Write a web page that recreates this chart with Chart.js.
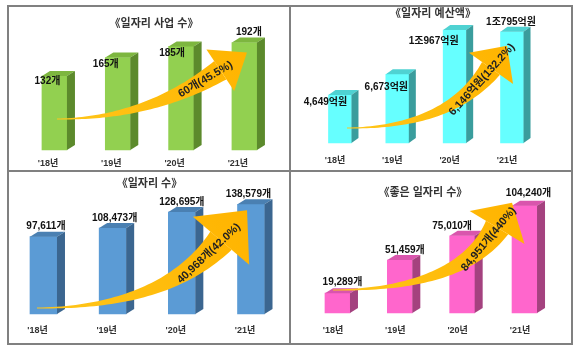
<!DOCTYPE html>
<html>
<head>
<meta charset="utf-8">
<script src="https://cdn.jsdelivr.net/npm/chart.js@4.4.1/dist/chart.umd.min.js"></script>
<style>
body{margin:0;background:#fff;width:580px;height:349px;position:relative;overflow:hidden}
.frame{position:absolute;left:7px;top:5px;width:562px;height:336px;border:2px solid #808080}
.vline{position:absolute;left:289px;top:5px;width:2px;height:338px;background:#808080}
.hline{position:absolute;left:7px;top:170px;width:565px;height:2px;background:#808080}
canvas{position:absolute}
</style>
</head>
<body>
<div class="frame"></div><div class="vline"></div><div class="hline"></div>
<canvas id="c1" width="282" height="165" style="left:8px;top:6px"></canvas>
<canvas id="c2" width="282" height="165" style="left:290px;top:6px"></canvas>
<canvas id="c3" width="282" height="172" style="left:8px;top:171px"></canvas>
<canvas id="c4" width="282" height="172" style="left:290px;top:171px"></canvas>
<script>
var years = ["'18년", "'19년", "'20년", "'21년"];
var projectCount = [132, 165, 185, 192];      // 개
var budget = [4649, 6673, 10967, 10795];      // 억원
var jobCount = [97611, 108473, 128695, 138579];
var goodJobCount = [19289, 51459, 75010, 104240];
var titles = ['《일자리 사업 수》', '《일자리 예산액》', '《일자리 수》', '《좋은 일자리 수》'];
var arrowTexts = ['60개(45.5%)', '6,146억원(132.2%)', '40,968개(42.0%)', '84,951개(440%)'];

var FONT = "'Liberation Sans', 'Noto Sans CJK KR', sans-serif";

function countFmt(v){ return v.toLocaleString('en-US') + '개'; }
function wonFmt(v){
  if (v >= 10000) return Math.floor(v / 10000) + '조' + (v % 10000) + '억원';
  return v.toLocaleString('en-US') + '억원';
}

// layout / style per panel (pixels are canvas coords)
var panels = [
  {id:'c1', w:282, h:165, data:projectCount, title:titles[0], arrowText:arrowTexts[0], fmt:countFmt,
   front:'#92D050', topC:'#7DB63F', side:'#5C8A2C',
   areaL:14.8, areaR:268.1, padL:10, padR:0, base:144, k:0.56, labelY:158, titleY:18, labelOffset:-6.5,
   bar:25, depth:8, rise:5,
   lab:[[-7,5],[-12,7],[-9,7],[4.5,-10]],
   tail:[2.5,-31], tip:[2.5,10], ang:-33.7, L:32, hw:25, bw:22},
  {id:'c2', w:282, h:165, data:budget, title:titles[1], arrowText:arrowTexts[1], fmt:wonFmt,
   front:'#66FFFF', topC:'#4FD2D2', side:'#3A9D9D',
   areaL:21.3, areaR:250.7, padL:4, padR:0, base:137, k:0.0103, labelY:155, titleY:8, labelOffset:-5,
   bar:23, depth:7, rise:5,
   lab:[[-14.5,7],[-11,13],[-21,11],[-1,-10]],
   tail:[7,-15], tip:[-5,14], ang:-54.6, L:27.6, hw:27, bw:22},
  {id:'c3', w:282, h:172, data:jobCount, title:titles[2], arrowText:arrowTexts[2], fmt:countFmt,
   front:'#5B9BD5', topC:'#4A80B2', side:'#3B6690',
   areaL:0.9, areaR:277.6, padL:0.9, padR:0, base:143, k:0.000792, labelY:160, titleY:13, labelOffset:-6,
   bar:27, depth:8, rise:5,
   lab:[[2.5,-10],[2,-10],[0,-10],[-2.5,-10]],
   tail:[-6.5,-6], tip:[-4,6], ang:-49.5, L:40, hw:37, bw:28},
  {id:'c4', w:282, h:172, data:goodJobCount, title:titles[3], arrowText:arrowTexts[3], fmt:countFmt,
   front:'#FF66CC', topC:'#D955AD', side:'#A4427F',
   areaL:16.3, areaR:265.7, padL:0, padR:16.3, base:142, k:0.00103, labelY:160, titleY:22, labelOffset:-4.5,
   bar:25, depth:8, rise:5,
   lab:[[5,-11],[5,-10],[-10,-9],[4,-12]],
   tail:[-4.5,-23], tip:[-12.5,-3], ang:-59, L:29, hw:32, bw:26}
];

function drawArrow(ctx, T, P, p){
  var a = p.ang * Math.PI / 180, dx = Math.cos(a), dy = Math.sin(a);
  var Hb = {x: P.x - p.L * dx, y: P.y - p.L * dy};
  var s = (Hb.y - T.y) / dy;
  var C = {x: Hb.x - dx * s, y: T.y};
  function pt(t){
    var u = 1 - t;
    return {x: u*u*T.x + 2*u*t*C.x + t*t*Hb.x, y: u*u*T.y + 2*u*t*C.y + t*t*Hb.y};
  }
  function tan(t){
    var x = 2*(1-t)*(C.x-T.x) + 2*t*(Hb.x-C.x), y = 2*(1-t)*(C.y-T.y) + 2*t*(Hb.y-C.y);
    var l = Math.sqrt(x*x + y*y);
    return {x: x/l, y: y/l};
  }
  var up = [], down = [], N = 50;
  for (var i = 0; i <= N; i++){
    var t = i / N, q = pt(t), d = tan(t);
    var half = (1 + (p.bw - 1) * Math.pow(t, 1.5)) / 2;
    up.push([q.x + d.y * half, q.y - d.x * half]);
    down.push([q.x - d.y * half, q.y + d.x * half]);
  }
  var g = ctx.createLinearGradient(T.x, T.y, P.x, P.y);
  g.addColorStop(0, '#FFC61A');
  g.addColorStop(1, '#FFB400');
  ctx.fillStyle = g;
  ctx.beginPath();
  ctx.moveTo(up[0][0], up[0][1]);
  for (i = 1; i < up.length; i++) ctx.lineTo(up[i][0], up[i][1]);
  for (i = down.length - 1; i >= 0; i--) ctx.lineTo(down[i][0], down[i][1]);
  ctx.closePath();
  ctx.fill();
  // head
  ctx.beginPath();
  ctx.moveTo(Hb.x + dy * p.hw, Hb.y - dx * p.hw);
  ctx.lineTo(P.x, P.y);
  ctx.lineTo(Hb.x - dy * p.hw, Hb.y + dx * p.hw);
  ctx.closePath();
  ctx.fill();
  // text along the body
  var m = pt(0.9), dd = tan(0.9);
  ctx.save();
  ctx.translate(m.x, m.y);
  ctx.rotate(Math.atan2(dd.y, dd.x));
  ctx.fillStyle = '#222';
  ctx.font = 'bold 11px ' + FONT;
  ctx.textAlign = 'center';
  ctx.textBaseline = 'middle';
  ctx.fillText(p.arrowText, 0, 0);
  ctx.restore();
}

var bar3d = {
  id: 'bar3d',
  afterDatasetsDraw: function(chart, args, p){
    var ctx = chart.ctx;
    var bars = chart.getDatasetMeta(0).data;
    var base = chart.scales.y.getPixelForValue(0);
    ctx.save();
    bars.forEach(function(b){
      var l = b.x - b.width / 2, r = b.x + b.width / 2, t = b.y;
      ctx.fillStyle = p.topC;
      ctx.beginPath();
      ctx.moveTo(l, t); ctx.lineTo(l + p.depth, t - p.rise);
      ctx.lineTo(r + p.depth, t - p.rise); ctx.lineTo(r, t);
      ctx.closePath(); ctx.fill();
      ctx.fillStyle = p.side;
      ctx.beginPath();
      ctx.moveTo(r, t); ctx.lineTo(r + p.depth, t - p.rise);
      ctx.lineTo(r + p.depth, base - p.rise); ctx.lineTo(r, base);
      ctx.closePath(); ctx.fill();
    });
    var b0 = bars[0], b3 = bars[bars.length - 1];
    drawArrow(ctx, {x: b0.x + p.tail[0], y: base + p.tail[1]}, {x: b3.x + p.tip[0], y: b3.y + p.tip[1]}, p);
    ctx.fillStyle = '#111';
    ctx.font = 'bold 10px ' + FONT;
    ctx.textAlign = 'center';
    ctx.textBaseline = 'middle';
    bars.forEach(function(b, i){
      ctx.fillText(p.fmt(p.data[i]), b.x + p.lab[i][0], b.y + p.lab[i][1]);
    });
    ctx.restore();
  }
};

panels.forEach(function(p){
  var tickPad = 2, tickSize = 9, titleSize = 11;
  var areaBottom = p.labelY - tickSize * 1.2 / 2 - tickPad;
  var padB = p.h - areaBottom - tickSize * 1.2 - 2 * tickPad;
  var tp = p.titleY - titleSize * 1.2 / 2;
  var areaTop = tp + titleSize * 1.2 + 2;
  var ymin = -(areaBottom - p.base) / p.k, ymax = (p.base - areaTop) / p.k;
  var leftW = p.areaL - p.padL, rightW = (p.w - p.padR) - p.areaR;

  new Chart(document.getElementById(p.id), {
    type: 'bar',
    data: {
      labels: years,
      datasets: [{data: p.data, backgroundColor: p.front, barThickness: p.bar, yAxisID: 'y'}]
    },
    options: {
      responsive: false,
      animation: false,
      layout: {padding: {left: p.padL, right: p.padR, top: 0, bottom: padB}},
      plugins: {
        legend: {display: false},
        tooltip: {enabled: false},
        title: {display: true, text: p.title, color: '#333',
          font: {family: FONT, size: titleSize, weight: 'bold', lineHeight: 1.2},
          padding: {top: tp, bottom: 2}},
        bar3d: p
      },
      scales: {
        x: {
          grid: {display: false, drawTicks: false, tickLength: 0},
          border: {display: false},
          ticks: {padding: tickPad, labelOffset: p.labelOffset, color: '#333', maxRotation: 0,
            font: {family: FONT, size: tickSize, weight: 'bold', lineHeight: 1.2}}
        },
        y: {
          position: 'left', min: ymin, max: ymax,
          grid: {display: false, drawTicks: false}, border: {display: false},
          ticks: {display: false},
          afterFit: function(s){ s.width = leftW; }
        },
        yR: {
          type: 'linear', position: 'right', min: 0, max: 1,
          grid: {display: false, drawTicks: false}, border: {display: false},
          ticks: {display: false},
          afterFit: function(s){ s.width = rightW; }
        }
      }
    },
    plugins: [bar3d]
  });
});
</script>
</body>
</html>
